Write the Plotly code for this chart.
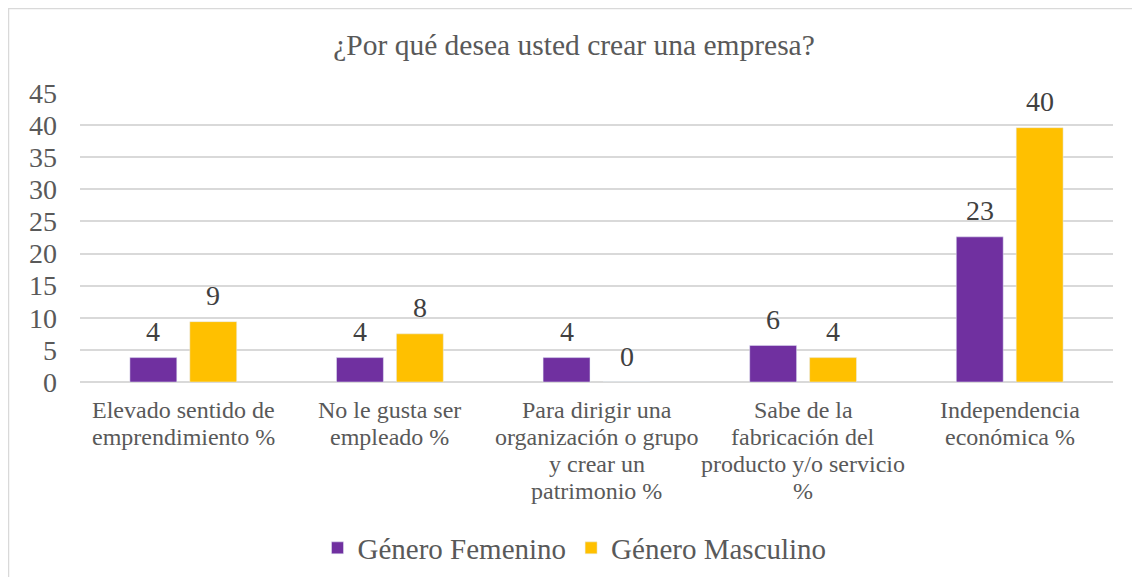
import plotly.graph_objects as go

categories = [
    "Elevado sentido de<br>emprendimiento %",
    "No le gusta ser<br>empleado %",
    "Para dirigir una<br>organización o grupo<br>y crear un<br>patrimonio %",
    "Sabe de la<br>fabricación del<br>producto y/o servicio<br>%",
    "Independencia<br>económica %",
]
femenino = [3.8, 3.8, 3.8, 5.7, 22.6]
masculino = [9.4, 7.5, 0, 3.8, 39.6]
y_ticks = [0, 5, 10, 15, 20, 25, 30, 35, 40, 45]

FONT = "Liberation Serif, Times New Roman, serif"
OFF = 8  # page body margin
W, H = 1140 - 2 * OFF, 585 - 2 * OFF
L, R, T, B = 80 - OFF, 1113 - OFF, 93 - OFF, 382 - OFF
pw, ph = R - L, B - T

fig = go.Figure()
fig.add_trace(go.Bar(name="Género Femenino", x=categories, y=femenino,
                     marker=dict(color="#7030A0")))
fig.add_trace(go.Bar(name="Género Masculino", x=categories, y=masculino,
                     marker=dict(color="#FFC000")))

# data labels
for vals, xs in ((femenino, -30), (masculino, 30)):
    for cat, v in zip(categories, vals):
        fig.add_annotation(x=cat, y=v, xref="x", yref="y", text=f"{v:.0f}",
                           showarrow=False, xshift=xs, yshift=26, yanchor="middle",
                           font=dict(size=28, color="#404040", family=FONT))

# category labels, one annotation per line for tighter line spacing
for cat in categories:
    for i, line in enumerate(cat.split("<br>")):
        ypix = 410 - OFF + i * 27
        fig.add_annotation(x=cat, xref="x", y=(B - ypix) / ph, yref="paper",
                           text=line, showarrow=False, xanchor="center", yanchor="middle",
                           font=dict(size=24, color="#595959", family=FONT))

fig.add_shape(type="rect", xref="paper", yref="paper",
              x0=(8 - OFF - L + 0.5) / pw, x1=(1137 - OFF - L) / pw,
              y0=(B - (582 - OFF)) / ph, y1=(B - 0.5) / ph,
              line=dict(color="#d9d9d9", width=1.5), fillcolor="rgba(0,0,0,0)", layer="below")

fig.update_layout(
    width=W, height=H,
    margin=dict(l=L, r=W - R, t=T, b=H - B, pad=0, autoexpand=False),
    paper_bgcolor="white", plot_bgcolor="white",
    title=dict(text="¿Por qué desea usted crear una empresa?", x=(574 - OFF) / W, xanchor="center",
               xref="container", y=1 - (45 - OFF) / H, yanchor="middle",
               font=dict(size=29.5, color="#595959", family=FONT)),
    barmode="group", bargap=0.42, bargroupgap=0.217,
    font=dict(family=FONT, color="#595959"),
    xaxis=dict(showticklabels=False, showline=False, ticks="", showgrid=False, automargin=False),
    yaxis=dict(range=[0, 45], tickvals=y_ticks, showgrid=True, gridcolor="#d9d9d9", gridwidth=1.5,
               zeroline=True, zerolinecolor="#d9d9d9", zerolinewidth=1.5, automargin=False,
               tickfont=dict(size=28, color="#595959", family=FONT), ticks="", ticklabelstandoff=22),
    legend=dict(orientation="h", x=(574.5 - 80) / pw, xanchor="center", y=(B - (548 - OFF)) / ph,
                yanchor="middle",
                font=dict(size=29, color="#595959", family=FONT), itemwidth=30,
                traceorder="normal"),
    showlegend=True,
)

fig.write_html("out.html")
